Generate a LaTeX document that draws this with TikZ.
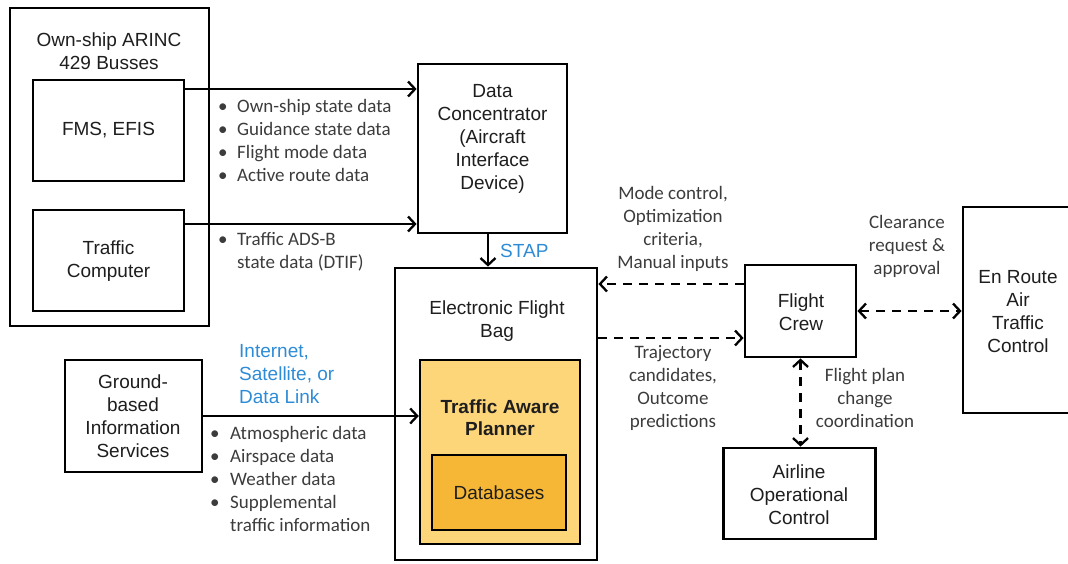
\documentclass[tikz,border=0pt]{standalone}
\usepackage{fontspec}
\setmainfont{Liberation Sans}
\newfontfamily\labfont{Carlito}
\usetikzlibrary{arrows.meta}
\definecolor{tapfill}{RGB}{253,214,122}
\definecolor{dbfill}{RGB}{247,183,54}
\definecolor{linkblue}{RGB}{46,139,214}
\definecolor{labgray}{RGB}{60,60,60}
\definecolor{boxtext}{RGB}{30,30,30}
\tikzset{
  box/.style={draw=black, line width=2.8pt, fill=white, inner sep=0pt},
  boxlabel/.style={align=center, text=boxtext, inner sep=0pt, font=\fontsize{19}{23}\selectfont},
  lab/.style={align=center, text=labgray, inner sep=0pt, font=\labfont\fontsize{19}{23}\selectfont},
  lableft/.style={align=left, text=labgray, inner sep=0pt, anchor=west, font=\labfont\fontsize{19}{23}\selectfont},
  bluelab/.style={align=left, text=linkblue, inner sep=0pt, font=\fontsize{19}{23}\selectfont},
  arr/.style={line width=2.3pt, -{Straight Barb[length=7pt,width=15pt]}},
  darr/.style={line width=2.3pt, dash pattern=on 9pt off 7pt, -{Straight Barb[length=7pt,width=15pt]}},
  ddarr/.style={line width=2.3pt, dash pattern=on 9pt off 7pt, {Straight Barb[length=7pt,width=15pt]}-{Straight Barb[length=7pt,width=15pt]}},
}
\newcommand{\bul}[1]{\makebox[#1][l]{\textbullet}}
\begin{document}
\begin{tikzpicture}[x=1pt,y=-1pt]
\useasboundingbox (0,0) rectangle (1068,563);
% left group
\node[box, minimum width=199pt, minimum height=318pt] (own) at (109.5,167) {};
\node[boxlabel] (owntitle) at (109,51.5) {Own-ship ARINC\\429 Busses};
\node[box, minimum width=151pt, minimum height=101pt] (fms) at (108.5,130.5) {};
\node[boxlabel] (fmst) at (108.5,130) {FMS, EFIS};
\node[box, minimum width=151pt, minimum height=101pt] (traffic) at (108.5,260.5) {};
\node[boxlabel] (traffict) at (108.5,261.5) {Traffic\\Computer};
% data concentrator
\node[box, minimum width=149pt, minimum height=169pt] (dc) at (492.5,148.5) {};
\node[boxlabel] (dct) at (492.5,138.5) {Data\\Concentrator\\(Aircraft\\Interface\\Device)};
% EFB
\node[box, minimum width=202pt, minimum height=292pt] (efb) at (496,414) {};
\node[boxlabel] (efbt) at (497,321.5) {Electronic Flight\\Bag};
\node[box, line width=2.4pt, fill=tapfill, minimum width=160pt, minimum height=184pt] (tap) at (500,452) {};
\node[boxlabel, font=\bfseries\fontsize{19}{22}\selectfont] (tapt) at (500,418) {Traffic Aware\\Planner};
\node[box, line width=2.4pt, fill=dbfill, minimum width=134pt, minimum height=75pt] (db) at (499,492.5) {};
\node[boxlabel] (dbt) at (499,493) {Databases};
% right
\node[box, minimum width=111pt, minimum height=92pt] (fc) at (800.5,311) {};
\node[boxlabel] (fct) at (801,312) {Flight\\Crew};
\node[box, minimum width=112pt, minimum height=206pt] (er) at (1019,310) {};
\node[boxlabel] (ert) at (1018,312) {En Route\\Air\\Traffic\\Control};
\node[box, minimum width=152pt, minimum height=91pt] (airline) at (799.5,493.5) {};
\node[boxlabel] (airlinet) at (799,495) {Airline\\Operational\\Control};
\node[box, minimum width=137pt, minimum height=112pt] (ground) at (133.5,416) {};
\node[boxlabel] (groundt) at (133,416.5) {Ground-\\based\\Information\\Services};
% helper coordinates
\coordinate (ya) at (0,89);
\coordinate (yb) at (0,224);
\coordinate (xs) at (488,0);
\coordinate (yc) at (0,284);
\coordinate (yd) at (0,338);
% connectors
\draw[arr] (fms.east |- ya) -- (dc.west |- ya);
\draw[arr] (traffic.east |- yb) -- (dc.west |- yb);
\draw[arr] (dc.south -| xs) -- (efb.north -| xs);
\draw[arr] (ground.east) -- (tap.west |- ground.east);
\draw[darr] (fc.west |- yc) -- (efb.east |- yc);
\draw[darr] (efb.east |- yd) -- (fc.west |- yd);
\draw[ddarr] (fc.east) -- (er.west |- fc.east);
\draw[ddarr] (fc.south) -- (airline.north -| fc.south);
% labels
\node[lableft] (l1) at (218,140) {\bul{19pt}Own-ship state data\\\bul{19pt}Guidance state data\\\bul{19pt}Flight mode data\\\bul{19pt}Active route data};
\node[lableft] (l2) at (218,252) {\bul{19pt}Traffic ADS-B\\\hspace*{19pt}state data (DTIF)};
\node[lableft] (l3) at (210,478.5) {\bul{20pt}Atmospheric data\\\bul{20pt}Airspace data\\\bul{20pt}Weather data\\\bul{20pt}Supplemental\\\hspace*{20pt}traffic information};
\node[bluelab, anchor=west] (l4) at (239,374) {Internet,\\Satellite, or\\Data Link};
\node[bluelab, anchor=west] (stap) at (500,251) {STAP};
\node[lab] (l5) at (673,229) {Mode control,\\Optimization\\criteria,\\Manual inputs};
\node[lab] (l6) at (673,388) {Trajectory\\candidates,\\Outcome\\predictions};
\node[lab] (l7) at (907,246.5) {Clearance\\request \&\\approval};
\node[lab] (l8) at (865,397.5) {Flight plan\\change\\coordination};
\end{tikzpicture}
\end{document}
